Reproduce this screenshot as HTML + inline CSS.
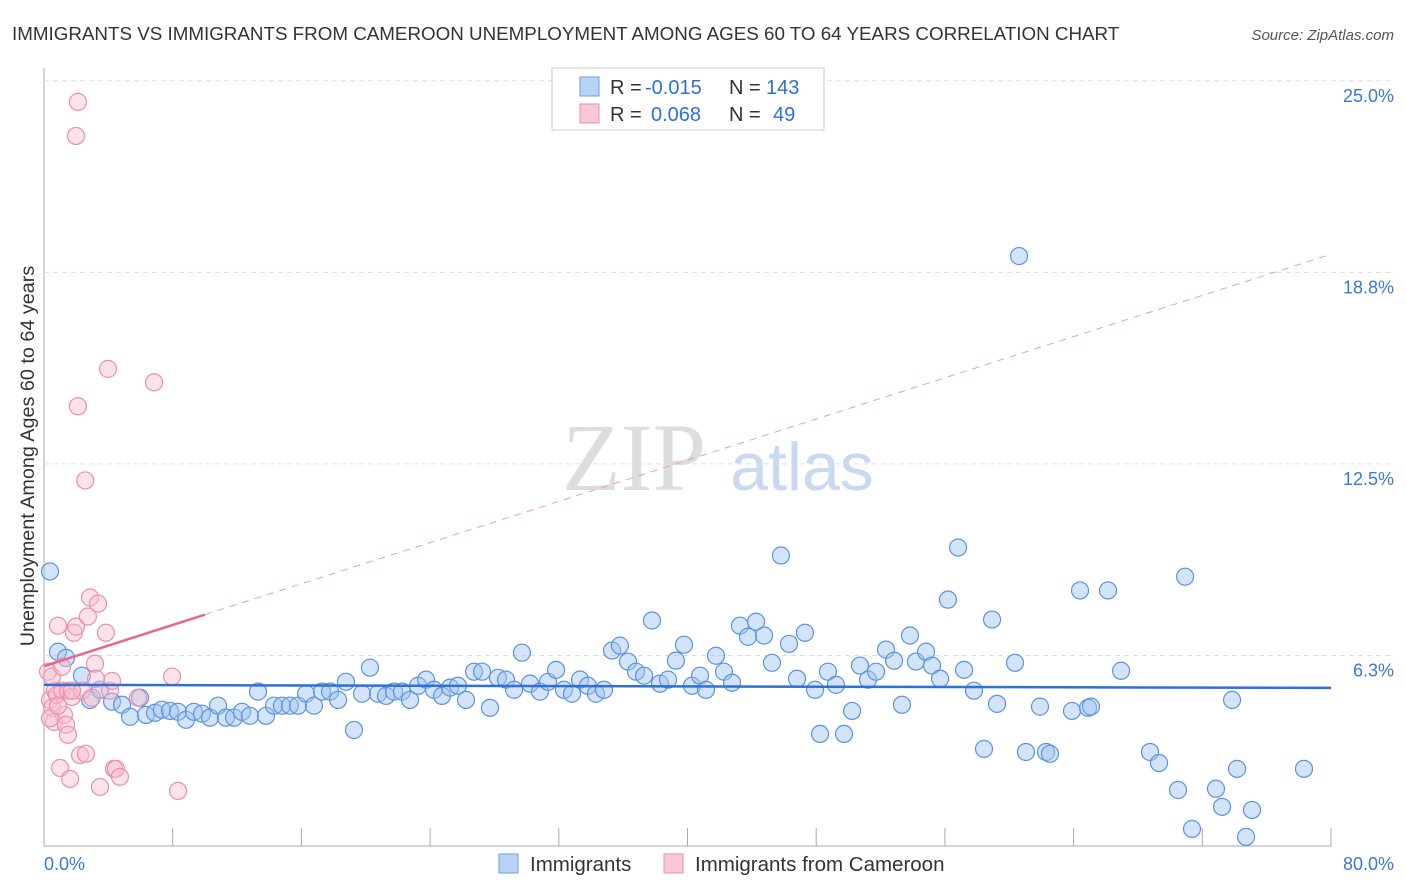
<!DOCTYPE html>
<html><head><meta charset="utf-8"><style>
body{margin:0;background:#fff;font-family:"Liberation Sans",sans-serif}
</style></head><body>
<svg id="c" width="1406" height="892" style="position:absolute;left:0;top:0">
<text x="12" y="40" font-size="18.8" fill="#333">IMMIGRANTS VS IMMIGRANTS FROM CAMEROON UNEMPLOYMENT AMONG AGES 60 TO 64 YEARS CORRELATION CHART</text>
<text x="1394" y="40" font-size="15" fill="#555" font-style="italic" text-anchor="end">Source: ZipAtlas.com</text>
<text x="634" y="490" font-size="96" fill="#ddd" font-family="Liberation Serif" text-anchor="middle">ZIP</text>
<text x="802" y="490" font-size="68" fill="#c9d9ef" text-anchor="middle">atlas</text>
<text transform="translate(34,456) rotate(-90)" font-size="19.8" fill="#333" text-anchor="middle">Unemployment Among Ages 60 to 64 years</text>
<g id="grid"></g><g id="pts"></g><g id="lines"></g>
<g>
<rect x="552" y="68" width="272" height="62" fill="#fff" stroke="#ccc"/>
<rect x="580" y="77" width="19" height="19" fill="#b9d3f5" stroke="#6d9de0"/>
<text x="610" y="94" font-size="20" fill="#333">R =</text>
<text x="645" y="94" font-size="20" fill="#2f6fd6">-0.015</text>
<text x="729" y="94" font-size="20" fill="#333">N =</text>
<text x="766" y="94" font-size="20" fill="#2f6fd6">143</text>
<rect x="580" y="104" width="19" height="19" fill="#f9c8d6" stroke="#ee8ca8"/>
<text x="610" y="121" font-size="20" fill="#333">R =</text>
<text x="651" y="121" font-size="20" fill="#2f6fd6">0.068</text>
<text x="729" y="121" font-size="20" fill="#333">N =</text>
<text x="773" y="121" font-size="20" fill="#2f6fd6">49</text>
</g>
<g>
<rect x="499" y="854" width="19" height="19" fill="#b9d3f5" stroke="#6d9de0"/>
<text x="530" y="871" font-size="20.5" fill="#333">Immigrants</text>
<rect x="664" y="854" width="19" height="19" fill="#f9c8d6" stroke="#ee8ca8"/>
<text x="695" y="871" font-size="20.5" fill="#333">Immigrants from Cameroon</text>
</g>
<text x="44" y="870" font-size="18" fill="#3a78d8">0.0%</text>
<text x="1394" y="870" font-size="18" fill="#3a78d8" text-anchor="end">80.0%</text>
</svg>
<script>
const yTicks=[6.25,12.5,18.75,25];
const yTickLabels=["6.3%","12.5%","18.8%","25.0%"];
const xTicks=[0,8,16,24,32,40,48,56,64,72,80];
const blueX=[0.37,0.87,1.37,2.36,2.86,3.48,4.23,4.85,5.35,5.97,6.34,6.90,7.33,7.83,8.33,8.83,9.32,9.82,10.32,10.82,11.31,11.81,12.31,12.80,13.30,13.80,14.30,14.79,15.29,15.79,16.29,16.78,17.28,17.78,18.28,18.77,19.27,19.77,20.26,20.76,21.26,21.76,22.25,22.75,23.25,23.75,24.24,24.74,25.24,25.73,26.23,26.73,27.23,27.72,28.22,28.72,29.22,29.71,30.21,30.83,31.33,31.83,32.32,32.82,33.32,33.81,34.31,34.81,35.31,35.80,36.30,36.80,37.30,37.79,38.29,38.79,39.28,39.78,40.28,40.78,41.15,41.77,42.27,42.77,43.26,43.76,44.26,44.76,45.25,45.81,46.31,46.81,47.30,47.93,48.24,48.73,49.23,49.73,50.23,50.72,51.22,51.72,52.34,52.84,53.33,53.83,54.20,54.83,55.20,55.70,56.19,56.82,57.19,57.81,58.43,58.93,59.24,60.36,60.61,61.04,61.91,62.29,62.53,63.90,64.40,64.90,65.08,66.14,66.95,68.75,69.31,70.49,70.93,71.36,72.85,73.23,73.85,74.16,74.72,75.09,78.32];
const blueY=[8.99,6.37,6.17,5.59,4.80,5.13,4.74,4.64,4.25,4.87,4.31,4.38,4.48,4.44,4.41,4.15,4.41,4.35,4.22,4.61,4.22,4.22,4.41,4.28,5.07,4.28,4.61,4.61,4.61,4.61,5.00,4.61,5.07,5.07,4.80,5.39,3.82,5.00,5.85,5.00,4.93,5.07,5.07,4.80,5.26,5.46,5.13,4.93,5.20,5.26,4.80,5.72,5.72,4.54,5.52,5.46,5.13,6.34,5.33,5.07,5.39,5.78,5.13,5.00,5.46,5.26,5.00,5.13,6.41,6.57,6.05,5.72,5.59,7.39,5.33,5.46,6.08,6.60,5.26,5.59,5.13,6.24,5.72,5.36,7.22,6.86,7.35,6.90,6.01,9.51,6.63,5.49,6.99,5.13,3.69,5.72,5.29,3.69,4.44,5.92,5.46,5.72,6.44,6.08,4.64,6.90,6.05,6.37,5.92,5.49,8.07,9.77,5.78,5.10,3.20,7.42,4.67,6.01,19.28,3.10,4.58,3.10,3.04,4.44,8.37,4.54,4.58,8.37,5.75,3.10,2.74,1.86,8.82,0.59,1.90,1.31,4.80,2.55,0.33,1.21,2.55];
const pinkX=[0.25,0.37,0.5,0.62,0.68,0.81,0.87,1.0,1.12,1.24,1.37,1.49,1.62,1.74,1.86,1.99,2.11,2.11,2.24,2.36,2.56,2.61,2.73,2.86,2.98,3.17,3.36,3.48,3.85,4.1,4.23,3.98,4.35,4.47,4.72,5.84,6.84,7.96,8.33,1.99,0.37,0.5,0.87,1.12,1.49,1.74,3.23];
const pinkY=[5.72,4.8,4.54,4.08,5.1,4.97,7.22,2.58,5.1,4.31,3.99,5.1,2.22,4.9,6.99,7.19,24.31,14.38,3.00,5.1,11.96,3.04,7.52,8.14,4.87,5.98,7.94,1.96,6.99,5.1,5.42,15.6,2.55,2.55,2.29,4.87,15.16,5.56,1.83,23.2,4.2,5.56,4.61,5.88,3.66,5.1,5.49];
const blueTrend=[5.29,-0.00125];
const pinkTrend=[5.9,0.168];
const NS="http://www.w3.org/2000/svg";
const X=v=>44+v*(1287/80), Y=v=>847-v*30.65;
const grid=document.getElementById('grid'),pts=document.getElementById('pts'),lines=document.getElementById('lines');
function mk(tag,at,parent){const e=document.createElementNS(NS,tag);for(const k in at)e.setAttribute(k,at[k]);parent.appendChild(e);return e;}
let ax=mk('line',{x1:44,y1:68,x2:44,y2:846,stroke:'#aaa'},grid);


let bx=mk('line',{x1:44,y1:846,x2:1331,y2:846,stroke:'#aaa'},grid);


yTicks.forEach((t,i)=>{
 let g=mk('line',{x1:44,y1:Y(t),x2:1394,y2:Y(t),stroke:'#ddd','stroke-dasharray':'5,4'},grid);
 
 
 let tx=mk('text',{x:1394,y:Y(t)+21,'font-size':18,fill:'#3a78d8','text-anchor':'end'},grid);
 tx.textContent=yTickLabels[i];
 
 
});
xTicks.forEach(t=>{
 let l=mk('line',{x1:X(t),y1:828,x2:X(t),y2:846,stroke:'#aaa'},grid);
 
 
});
blueX.forEach((v,i)=>{
 let c=mk('circle',{cx:X(v),cy:Y(blueY[i]),r:8.5,fill:'rgba(160,195,240,0.45)',stroke:'#5b93e0','stroke-width':1.2},pts);
 
 
});
pinkX.forEach((v,i)=>{
 let c=mk('circle',{cx:X(v),cy:Y(pinkY[i]),r:8.5,fill:'rgba(248,190,208,0.45)',stroke:'#ec8fab','stroke-width':1.2},pts);
 
 
});
const [ba,bb]=blueTrend;
let bl=mk('line',{x1:X(0),y1:Y(ba),x2:X(80),y2:Y(ba+bb*80),stroke:'#2f6fd6','stroke-width':2.5},lines);


const [pa,pb]=pinkTrend;
let pl=mk('line',{x1:X(0),y1:Y(pa),x2:X(10),y2:Y(pa+pb*10),stroke:'#e8658d','stroke-width':2.5},lines);


let pd=mk('line',{x1:X(10),y1:Y(pa+pb*10),x2:X(80),y2:Y(pa+pb*80),stroke:'#e8a0b4','stroke-width':1,'stroke-dasharray':'7,6'},lines);


</script>
</body></html>
